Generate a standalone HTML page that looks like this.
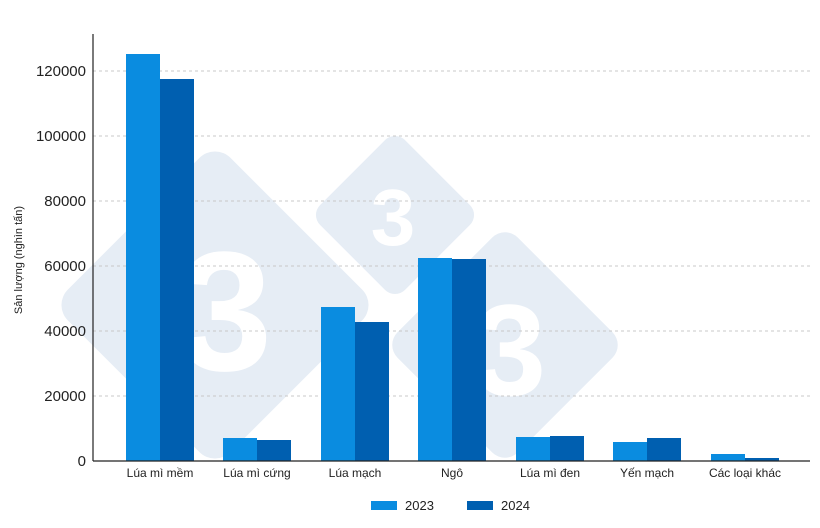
<!DOCTYPE html>
<html><head><meta charset="utf-8"><style>
body{margin:0;background:#fff;}
svg{display:block;font-family:"Liberation Sans",sans-serif;}
</style></head><body>
<svg width="820" height="528" viewBox="0 0 820 528">
<g fill="#e6edf5">
<rect x="100" y="190" width="230" height="230" rx="22" transform="rotate(45 215 305)"/>
<rect x="335" y="155" width="120" height="120" rx="14" transform="rotate(45 395 215)"/>
<rect x="420" y="260" width="170" height="170" rx="18" transform="rotate(45 505 345)"/>
</g>
<g fill="#fff" font-weight="bold" text-anchor="middle">
<text x="225" y="370" font-size="170">3</text>
<text x="393" y="245" font-size="80">3</text>
<text x="510" y="395" font-size="130">3</text>
</g>
<g stroke="#c8c8c8" stroke-dasharray="3,3" stroke-width="1">
<line x1="93" x2="810" y1="396" y2="396"/><line x1="93" x2="810" y1="331" y2="331"/>
<line x1="93" x2="810" y1="266" y2="266"/><line x1="93" x2="810" y1="201" y2="201"/>
<line x1="93" x2="810" y1="136" y2="136"/><line x1="93" x2="810" y1="71" y2="71"/>
</g>
<g font-size="15" fill="#222" text-anchor="end">
<text x="86" y="466">0</text><text x="86" y="401">20000</text><text x="86" y="336">40000</text>
<text x="86" y="271">60000</text><text x="86" y="206">80000</text><text x="86" y="141">100000</text><text x="86" y="76">120000</text>
</g>
<text transform="translate(22 260) rotate(-90)" font-size="11" fill="#222" text-anchor="middle">Sản lượng (nghìn tấn)</text>
<g fill="#0a8ce0">
<rect x="126" y="54" width="34" height="407"/><rect x="223" y="438" width="34" height="23"/>
<rect x="321" y="307" width="34" height="154"/><rect x="418" y="258" width="34" height="203"/>
<rect x="516" y="437" width="34" height="24"/><rect x="613" y="442" width="34" height="19"/>
<rect x="711" y="454" width="34" height="7"/>
</g>
<g fill="#005fb0">
<rect x="160" y="79" width="34" height="382"/><rect x="257" y="440" width="34" height="21"/>
<rect x="355" y="322" width="34" height="139"/><rect x="452" y="259" width="34" height="202"/>
<rect x="550" y="436" width="34" height="25"/><rect x="647" y="438" width="34" height="23"/>
<rect x="745" y="458" width="34" height="3"/>
</g>
<line x1="93" y1="34" x2="93" y2="461" stroke="#222" stroke-width="1.2"/>
<line x1="93" y1="461" x2="810" y2="461" stroke="#222" stroke-width="1.2"/>
<g font-size="12" fill="#222" text-anchor="middle">
<text x="160" y="477">Lúa mì mềm</text><text x="257" y="477">Lúa mì cứng</text>
<text x="355" y="477">Lúa mạch</text><text x="452" y="477">Ngô</text>
<text x="550" y="477">Lúa mì đen</text><text x="647" y="477">Yến mạch</text>
<text x="745" y="477">Các loại khác</text>
</g>
<rect x="371" y="501" width="26" height="9" fill="#0a8ce0"/>
<text x="405" y="510" font-size="13" fill="#222">2023</text>
<rect x="467" y="501" width="26" height="9" fill="#005fb0"/>
<text x="501" y="510" font-size="13" fill="#222">2024</text>
</svg>
</body></html>
